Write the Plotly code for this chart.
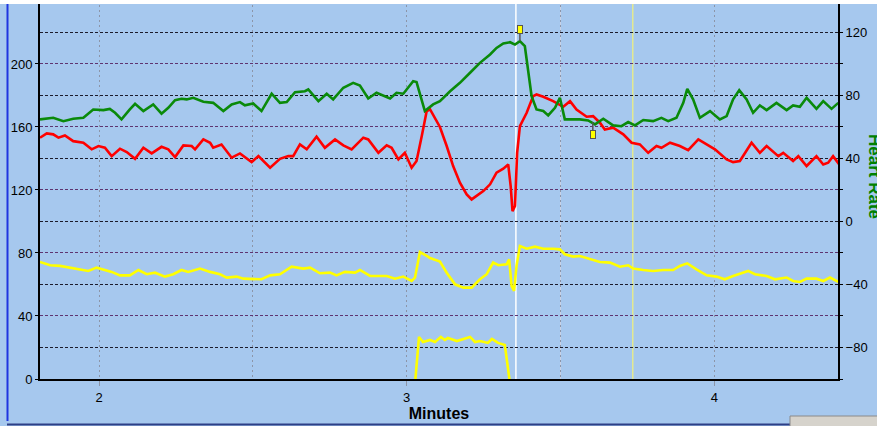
import plotly.graph_objects as go

# ---------------- data (time in minutes) ----------------
t_red = [1.808, 1.830, 1.851, 1.868, 1.889, 1.916, 1.949, 1.976, 1.998, 2.019, 2.041, 2.068, 2.090, 2.117,
         2.144, 2.171, 2.203, 2.225, 2.247, 2.274, 2.301, 2.312, 2.339, 2.361, 2.371, 2.398, 2.431, 2.458,
         2.496, 2.518, 2.556, 2.588, 2.615, 2.631, 2.653, 2.675, 2.707, 2.734, 2.767, 2.794, 2.821, 2.859,
         2.875, 2.908, 2.935, 2.951, 2.973, 2.994, 3.016, 3.032, 3.049, 3.065, 3.076, 3.108, 3.130, 3.151,
         3.173, 3.195, 3.211, 3.227, 3.249, 3.271, 3.292, 3.314, 3.330, 3.338, 3.344, 3.352, 3.359, 3.368,
         3.390, 3.411, 3.422, 3.444, 3.476, 3.509, 3.531, 3.552, 3.585, 3.606, 3.628, 3.644, 3.671, 3.704,
         3.731, 3.758, 3.785, 3.812, 3.828, 3.856, 3.888, 3.915, 3.948, 3.975, 4.002, 4.040, 4.061, 4.083,
         4.121, 4.148, 4.170, 4.208, 4.224, 4.256, 4.273, 4.300, 4.332, 4.354, 4.370, 4.386, 4.406]
red = [153.2, 155.9, 155.3, 153.2, 154.6, 151.0, 150.0, 145.8, 147.9, 146.8, 141.5, 146.2, 144.1, 139.8,
       146.8, 143.2, 147.4, 145.8, 140.9, 148.3, 147.9, 145.8, 152.1, 150.0, 146.8, 148.9, 140.5, 143.2,
       137.7, 141.5, 134.1, 139.8, 141.5, 141.5, 148.9, 145.8, 153.8, 146.8, 152.1, 148.3, 145.8, 153.2,
       152.1, 143.6, 148.3, 146.8, 139.4, 143.6, 134.1, 138.4, 154.2, 170.1, 171.1, 160.0, 147.9, 135.2,
       124.6, 117.2, 114.0, 116.2, 119.3, 123.6, 131.0, 133.5, 136.2, 122.5, 106.6, 109.8, 143.6, 160.5,
       169.0, 179.6, 180.6, 179.2, 176.4, 172.8, 176.4, 171.1, 166.5, 166.9, 162.7, 158.4, 159.5, 155.3,
       150.0, 148.9, 143.6, 147.9, 146.8, 150.0, 147.9, 145.3, 152.1, 148.9, 145.8, 139.4, 137.7, 138.4,
       150.0, 143.6, 147.9, 141.5, 143.6, 138.4, 141.5, 135.2, 141.5, 136.2, 137.3, 141.5, 136.2]

t_hr = [1.808, 1.851, 1.884, 1.916, 1.949, 1.981, 2.014, 2.035, 2.052, 2.073, 2.100, 2.117, 2.144, 2.176,
        2.203, 2.225, 2.247, 2.268, 2.285, 2.306, 2.339, 2.371, 2.404, 2.431, 2.458, 2.474, 2.501, 2.528,
        2.561, 2.588, 2.610, 2.637, 2.669, 2.680, 2.713, 2.740, 2.761, 2.794, 2.826, 2.848, 2.875, 2.902,
        2.946, 2.967, 2.989, 3.021, 3.032, 3.059, 3.086, 3.108, 3.141, 3.173, 3.206, 3.238, 3.271, 3.292,
        3.314, 3.336, 3.352, 3.368, 3.384, 3.395, 3.406, 3.422, 3.444, 3.460, 3.482, 3.498, 3.514, 3.563,
        3.590, 3.612, 3.639, 3.671, 3.698, 3.720, 3.742, 3.769, 3.801, 3.828, 3.850, 3.877, 3.899, 3.912,
        3.931, 3.953, 3.986, 4.018, 4.040, 4.061, 4.081, 4.105, 4.126, 4.148, 4.170, 4.202, 4.235, 4.256,
        4.278, 4.300, 4.332, 4.354, 4.381, 4.403]
heart_rate = [64.8, 65.8, 63.7, 65.2, 65.8, 71.1, 70.7, 71.5, 69.0, 64.8, 71.1, 74.7, 70.1, 74.3,
              68.4, 72.2, 77.0, 77.9, 77.5, 78.5, 76.0, 75.3, 70.1, 74.3, 75.8, 73.7, 74.9, 70.1,
              81.1, 75.3, 75.8, 82.1, 82.7, 83.8, 76.4, 81.1, 77.5, 84.9, 88.0, 86.3, 78.1, 81.7,
              78.1, 81.7, 81.1, 89.1, 88.5, 70.1, 74.3, 76.4, 82.7, 88.0, 94.4, 100.7, 106.0, 110.2,
              113.0, 113.8, 112.3, 114.5, 111.3, 96.5, 79.6, 71.1, 70.1, 67.3, 72.2, 78.5, 64.8, 64.8,
              64.1, 61.6, 65.2, 61.0, 60.5, 63.1, 61.0, 64.4, 63.7, 65.8, 63.7, 65.8, 75.3, 84.2,
              77.5, 65.8, 70.1, 64.8, 66.9, 77.5, 83.4, 77.5, 69.0, 73.7, 70.7, 75.3, 70.7, 73.7,
              72.8, 78.5, 71.5, 76.4, 71.5, 75.3]

t_yel = [1.808, 1.841, 1.873, 1.906, 1.938, 1.965, 1.992, 2.014, 2.041, 2.068, 2.100, 2.128, 2.155, 2.182,
         2.214, 2.241, 2.268, 2.290, 2.328, 2.361, 2.393, 2.415, 2.447, 2.469, 2.501, 2.528, 2.556, 2.588,
         2.626, 2.664, 2.686, 2.718, 2.751, 2.772, 2.799, 2.832, 2.848, 2.881, 2.935, 2.962, 2.989, 3.016,
         3.027, 3.043, 3.065, 3.076, 3.108, 3.130, 3.157, 3.184, 3.211, 3.238, 3.260, 3.281, 3.298, 3.325,
         3.333, 3.341, 3.349, 3.357, 3.368, 3.390, 3.417, 3.444, 3.476, 3.498, 3.514, 3.541, 3.563, 3.596,
         3.628, 3.661, 3.693, 3.720, 3.736, 3.769, 3.801, 3.834, 3.866, 3.888, 3.912, 3.942, 3.975, 4.007,
         4.034, 4.061, 4.089, 4.110, 4.132, 4.170, 4.197, 4.235, 4.256, 4.278, 4.300, 4.332, 4.354, 4.376,
         4.403]
yellow = [74.3, 72.2, 71.8, 70.7, 69.6, 68.6, 70.7, 69.6, 68.0, 65.8, 65.8, 69.2, 66.5, 67.5,
          65.0, 66.5, 69.2, 68.0, 70.1, 68.0, 66.5, 64.4, 65.0, 63.7, 63.7, 63.3, 65.8, 66.5,
          71.3, 70.1, 70.7, 67.1, 67.5, 65.8, 68.0, 67.5, 69.2, 65.4, 65.4, 63.7, 65.0, 62.2,
          64.4, 80.6, 78.1, 76.8, 74.5, 67.5, 60.1, 58.0, 58.0, 63.3, 66.5, 73.9, 72.2, 72.8,
          76.0, 59.1, 55.9, 71.8, 84.4, 82.7, 84.0, 82.7, 82.7, 82.3, 79.2, 77.7, 78.1, 76.0,
          74.3, 73.9, 71.3, 72.2, 70.1, 69.2, 68.6, 69.2, 69.2, 71.8, 73.4, 69.6, 65.8, 65.0,
          63.3, 65.4, 67.1, 68.6, 66.5, 65.4, 63.3, 64.4, 62.2, 61.6, 63.7, 63.7, 62.2, 64.4,
          61.6]

t_yel_low = [3.027, 3.040, 3.053, 3.076, 3.092, 3.111, 3.124, 3.134, 3.163, 3.206, 3.222, 3.238,
             3.264, 3.277, 3.297, 3.319, 3.336]
yellow_low = [-3, 26.7, 23.5, 24.8, 23.5, 26.7, 24.8, 26.0, 24.1, 26.7, 23.5, 24.1,
              22.9, 25.4, 22.9, 21.6, -3]

flag_times = [3.368, 3.605]          # event flags placed on the heart-rate trace
flag_hr = [114.5, 63.0]
cursor_times = [3.355, 3.735]        # vertical cursors
x_ticks = [2, 3, 4]
left_ticks = [0, 40, 80, 120, 160, 200, 240]
right_ticks = [-80, -40, 0, 40, 80, 120]

BG = "#a6c8ee"
W, H = 877, 426
ML, MR, MT, MB = 40, 39, 0, 47
PW, PH = W - ML - MR, H - MT - MB


def px(xp):
    return (xp - ML) / PW


def py(yp):
    return 1 - (yp - MT) / PH


fig = go.Figure()
fig.add_trace(go.Scatter(x=t_yel, y=yellow, mode="lines", line=dict(color="#ffff00", width=2.6),
                         showlegend=False))
fig.add_trace(go.Scatter(x=t_yel_low, y=yellow_low, mode="lines", line=dict(color="#ffff00", width=2.6),
                         showlegend=False))
fig.add_trace(go.Scatter(x=t_red, y=red, mode="lines", line=dict(color="#ff0000", width=2.6),
                         showlegend=False))
fig.add_trace(go.Scatter(x=t_hr, y=heart_rate, mode="lines", yaxis="y2",
                         line=dict(color="#0a8a0a", width=2.6), showlegend=False))

shapes = []
# cursors
shapes.append(dict(type="line", xref="x", yref="paper", x0=cursor_times[0], x1=cursor_times[0], y0=0, y1=1,
                   line=dict(color="#ffffff", width=1.5), layer="below"))
shapes.append(dict(type="line", xref="x", yref="paper", x0=cursor_times[1], x1=cursor_times[1], y0=0, y1=1,
                   line=dict(color="#f2f27a", width=1.2), layer="below"))
shapes.append(dict(type="line", xref="x", yref="paper", x0=3.5, x1=3.5, y0=0, y1=1,
                   line=dict(color="#c9d3e6", width=1), layer="below"))
# window decorations
shapes.append(dict(type="line", xref="paper", yref="paper", x0=px(7.5), x1=px(7.5), y0=py(0), y1=py(421),
                   line=dict(color="#1f35e0", width=2)))
shapes.append(dict(type="line", xref="paper", yref="paper", x0=px(7), x1=px(790), y0=py(424.5), y1=py(424.5),
                   line=dict(color="#2e3f86", width=2)))
shapes.append(dict(type="rect", xref="paper", yref="paper", x0=px(790), x1=px(880), y0=py(416), y1=py(428),
                   fillcolor="#d6d3cc", line=dict(color="#8a8a8a", width=1)))
shapes.append(dict(type="rect", xref="paper", yref="paper", x0=px(-5), x1=px(882), y0=py(4), y1=py(-3),
                   fillcolor="#ffffff", line=dict(width=0), layer="above"))

annotations = []
for ft, fh, ay in zip(flag_times, flag_hr, [-12, 12]):
    annotations.append(dict(x=ft, y=fh, xref="x", yref="y2", text=" ", showarrow=True,
                            arrowhead=0, arrowwidth=1.5, arrowcolor="#555555", ax=0, ay=ay,
                            bgcolor="#ffff00", bordercolor="#555555", borderwidth=1, borderpad=0,
                            width=4, height=7, font=dict(size=5)))
annotations.append(dict(x=px(875), y=py(176), xref="paper", yref="paper", text="<b>Heart Rate</b>",
                        textangle=90, showarrow=False, xanchor="center", yanchor="middle",
                        font=dict(family="Arial", size=17, color="#008000")))

fig.update_layout(
    width=W, height=H,
    margin=dict(l=ML, r=MR, t=MT, b=MB),
    paper_bgcolor=BG, plot_bgcolor=BG,
    font=dict(family="Arial", size=13, color="#000000"),
    shapes=shapes, annotations=annotations,
    xaxis=dict(range=[1.808, 4.402], tickvals=x_ticks, ticktext=[str(v) for v in x_ticks],
               showgrid=True, gridcolor="#8c95a8", griddash="2px,3px", gridwidth=1,
               minor=dict(tickvals=[2.5, 3.5], showgrid=True, gridcolor="#8c95a8", griddash="2px,3px",
                          ticks=""),
               showline=True, linecolor="#000000", linewidth=2, zeroline=False,
               ticks="outside", ticklen=5, tickcolor="#8c95a8",
               tickfont=dict(size=13),
               title=dict(text="<b>Minutes</b>", font=dict(size=16), standoff=2)),
    yaxis=dict(range=[0, 240.6], tickvals=left_ticks, showgrid=True, gridcolor="#5e3470",
               griddash="3px,2px", gridwidth=1, showline=True, linecolor="#000000", linewidth=2,
               zeroline=False, ticks="outside", ticklen=3, tickcolor="#000000", tickfont=dict(size=13)),
    yaxis2=dict(range=[-100, 140.6], tickvals=right_ticks, overlaying="y", side="right",
                showgrid=True, gridcolor="#1b1b2b", griddash="3px,2px", gridwidth=1,
                showline=True, linecolor="#000000", linewidth=2, zeroline=False,
                ticks="outside", ticklen=3, tickcolor="#000000", tickfont=dict(size=13),
                minor=dict(tickvals=[-100, -60, -20, 20, 60, 100, 140], ticks="outside", ticklen=3,
                           tickcolor="#000000", showgrid=False)),
)

fig.write_html("out.html")
